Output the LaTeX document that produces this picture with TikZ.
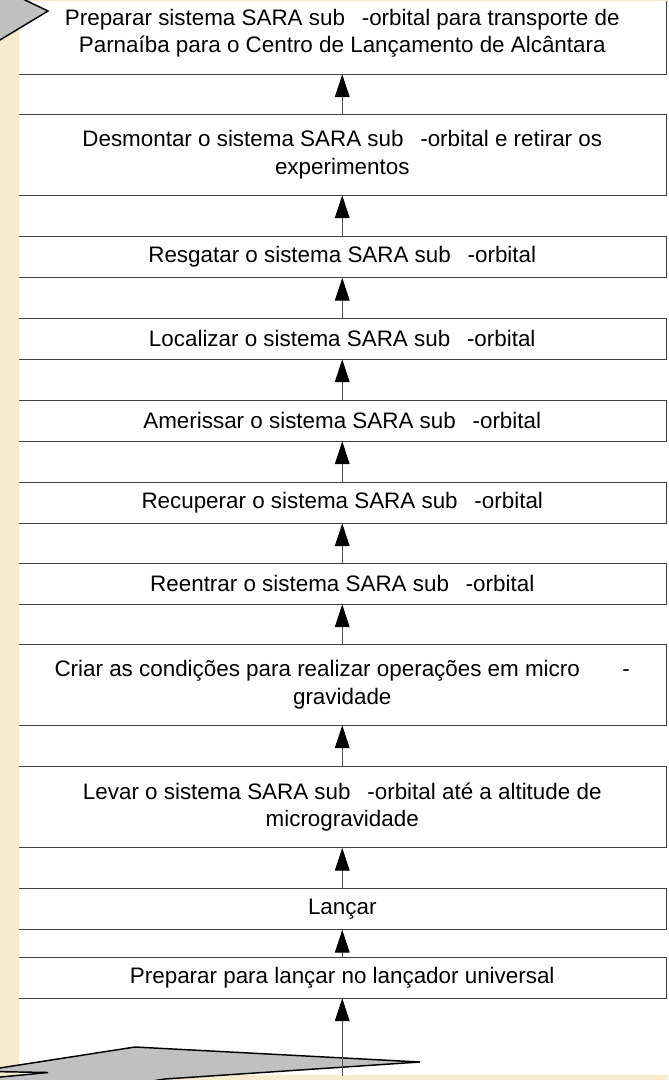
\documentclass[tikz,border=0pt]{standalone}
\usepackage{fontspec}
\setmainfont{Liberation Sans}
\usepackage{tikz}
\usetikzlibrary{positioning,arrows.meta}
\definecolor{parchment}{RGB}{250,234,205}
\definecolor{shapegray}{RGB}{192,192,192}
\newcommand{\subgap}{\hspace{0.75em}}

\begin{document}
\begin{tikzpicture}[x=0.75pt, y=-0.75pt,
    >={Triangle[length=17pt, width=11pt, color=black]},
    every node/.style={font=\fontsize{16.8}{20.6}\selectfont},
    stage/.style={draw=black!75, line width=0.6pt, fill=white, minimum width=486.4pt, minimum height=30.75pt, inner sep=0pt, align=center},
    stagetwo/.style={stage, minimum height=60.75pt},
    flow/.style={->, draw=black!70, line width=0.75pt},
    zigzag/.style={draw=black, line width=1.1pt, fill=shapegray, line join=miter}]
      \useasboundingbox (0,0) rectangle (668,1080);
      \fill[parchment] (0,0) rectangle (668,1080);
      \fill[white] (19,2) rectangle (668,1075);
      \begin{scope}
        \clip (19,2) rectangle (668,1075);
        \node[stagetwo] (b1) at (342.25,33.5) {Preparar sistema SARA sub\subgap-orbital para transporte de\\ Parnaíba para o Centro de Lançamento de Alcântara};
        \node[stagetwo] (b2) at (342.25,154.5) {Desmontar o sistema SARA sub\subgap-orbital e retirar os\\ experimentos};
        \node[stage] (b3) at (342.25,257) {Resgatar o sistema SARA sub\subgap-orbital};
        \node[stage] (b4) at (342.25,338.5) {Localizar o sistema SARA sub\subgap-orbital};
        \node[stage] (b5) at (342.25,420.5) {Amerissar o sistema SARA sub\subgap-orbital};
        \node[stage] (b6) at (342.25,502.5) {Recuperar o sistema SARA sub\subgap-orbital};
        \node[stage] (b7) at (342.25,583.5) {Reentrar o sistema SARA sub\subgap-orbital};
        \node[stagetwo] (b8) at (342.25,684.5) {Criar as condições para realizar operações em micro\hspace{1.9em}-\\ gravidade};
        \node[stagetwo] (b9) at (342.25,807) {Levar o sistema SARA sub\subgap-orbital até a altitude de\\ microgravidade};
        \node[stage] (b10) at (342.25,909) {Lançar};
        \node[stage] (b11) at (342.25,977.5) {Preparar para lançar no lançador universal};
      \end{scope}
      \draw[flow] (b11) -- (b10);
      \draw[flow] (b10) -- (b9);
      \draw[flow] (b9) -- (b8);
      \draw[flow] (b8) -- (b7);
      \draw[flow] (b7) -- (b6);
      \draw[flow] (b6) -- (b5);
      \draw[flow] (b5) -- (b4);
      \draw[flow] (b4) -- (b3);
      \draw[flow] (b3) -- (b2);
      \draw[flow] (b2) -- (b1);
      % grey zigzag arrows at the corners
      \draw[zigzag] (-10,-16.7) -- (48,11) -- (-10,46) -- cycle;
      \draw[zigzag] (-10,1069.5) -- (135,1047) -- (420,1062) -- (165,1079) -- (120,1086) -- (-10,1086) -- (-10,1078) -- (48,1072.5) -- (-10,1071.5) -- cycle;
      \coordinate (start) at (342.25,1076);
      \draw[flow] (start) -- (b11);
    \end{tikzpicture}
\end{document}
